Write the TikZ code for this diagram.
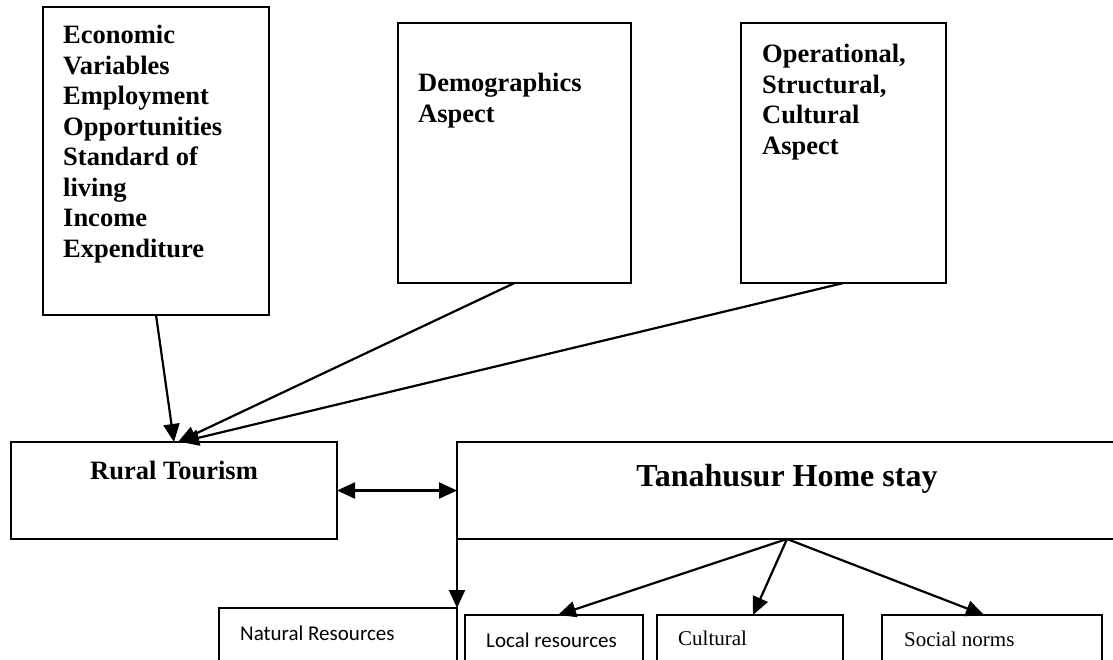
\documentclass[tikz,border=0pt]{standalone}
\usepackage{fontspec}
\setmainfont{Liberation Serif}
\newfontfamily\calibrifont{Carlito}
\usetikzlibrary{arrows.meta,positioning,calc}

\begin{document}
\begin{tikzpicture}[
  x=1pt,y=-1pt,
  box/.style={draw,line width=2pt,inner sep=0pt,outer sep=0pt},
  head/.style={font=\fontsize{26.5}{30.5}\selectfont\bfseries,align=left,inner sep=0pt},
  serifsmall/.style={font=\fontsize{21}{25}\selectfont,inner sep=0pt,anchor=north west},
  sanssmall/.style={font=\calibrifont\fontsize{21}{25}\selectfont,inner sep=0pt,anchor=north west},
  arr/.style={-{Triangle[length=18pt,width=16pt]},line width=2.2pt},
  biarr/.style={{Triangle[length=18pt,width=16pt]}-{Triangle[length=18pt,width=16pt]},line width=2.2pt}
]
\useasboundingbox (0,0) rectangle (1113,660);
\clip (0,0) rectangle (1113,660);
% top row: the three groups of factors
\node[box,minimum width=226pt,minimum height=308pt] (econ) at (156,161) {};
\node[box,minimum width=233pt,minimum height=260pt] (demo) at (514.5,153) {};
\node[box,minimum width=205pt,minimum height=260pt] (oper) at (843.5,153) {};
\node[head,anchor=north west] (econtxt) at ([xshift=20pt,yshift=-18pt]econ.north west)
  {Economic\\Variables\\Employment\\Opportunities\\Standard of\\living\\Income\\Expenditure};
\node[head,anchor=north west] (demotxt) at ([xshift=20pt,yshift=-50pt]demo.north west)
  {Demographics\\Aspect};
\node[head,anchor=north west] (opertxt) at ([xshift=21pt,yshift=-21pt]oper.north west)
  {Operational,\\Structural,\\Cultural\\Aspect};
% middle row
\node[box,minimum width=326pt,minimum height=97pt] (rural) at (174,490.5) {};
\node[head,anchor=north] (ruraltxt) at ([yshift=-19pt]rural.north) {Rural Tourism};
\node[box,minimum width=660pt,minimum height=97pt] (home) at (787,490.5) {};
\node[font=\fontsize{32}{36}\selectfont\bfseries,inner sep=0pt,anchor=north] (hometxt)
  at ([yshift=-22pt]home.north) {Tanahusur Home stay};
% bottom row: resources (cut by the page edge)
\node[box,minimum width=238pt,minimum height=80pt] (natural) at (338,648) {};
\node[box,minimum width=178pt,minimum height=80pt] (local) at (554,655) {};
\node[box,minimum width=186pt,minimum height=80pt] (cult) at (750,655) {};
\node[box,minimum width=220pt,minimum height=80pt] (social) at (992,655) {};
\node[sanssmall] (naturaltxt) at ([xshift=21pt,yshift=-18pt]natural.north west) {Natural Resources};
\node[sanssmall] (localtxt) at ([xshift=21pt,yshift=-18pt]local.north west) {Local resources};
\node[serifsmall] (culttxt) at ([xshift=21pt,yshift=-16pt]cult.north west) {Cultural};
\node[serifsmall] (socialtxt) at ([xshift=22pt,yshift=-17pt]social.north west) {Social norms};
% connectors
\draw[arr] (econ.south) -- (rural.north);
\draw[arr] (demo.south) -- ([xshift=4pt]rural.north);
\draw[arr] (oper.south) -- ([xshift=7pt]rural.north);
\draw[biarr] (rural.east) -- (home.west);
\draw[arr] (home.west) -- (natural.north east);
\draw[arr] (home.south) -- ([xshift=4pt]local.north);
\draw[arr] (home.south) -- ([xshift=3pt]cult.north);
\draw[arr] (home.south) -- ([xshift=-8pt]social.north);
\end{tikzpicture}
\end{document}
